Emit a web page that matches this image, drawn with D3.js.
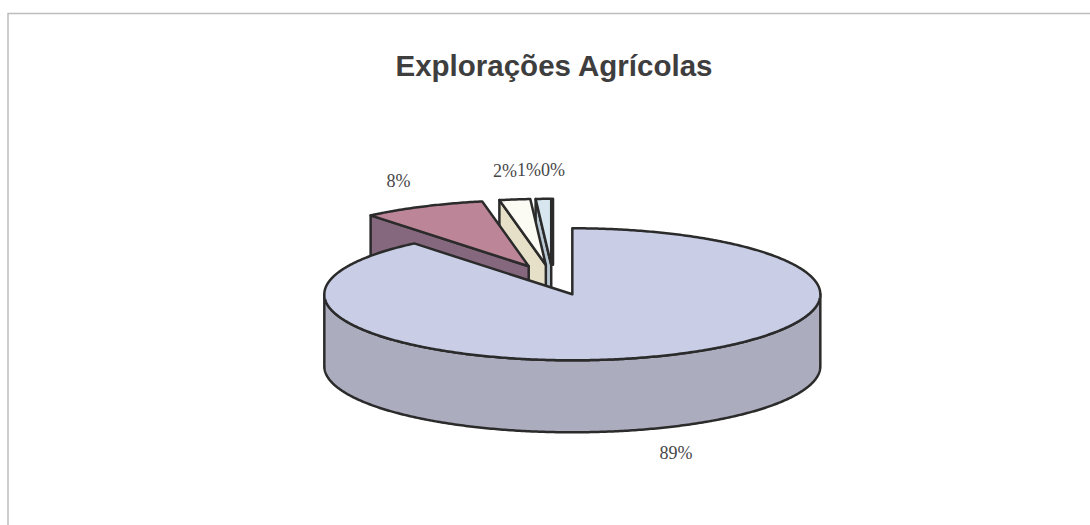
<!DOCTYPE html>
<html>
<head>
<meta charset="utf-8">
<script src="https://cdn.jsdelivr.net/npm/d3@7"></script>
<style>
  html, body { margin: 0; padding: 0; background: #fff; }
  svg { display: block; }
</style>
</head>
<body>
<svg id="chart" width="1090" height="525"></svg>
<script>
// ---- data ----
const chartTitle = "Explorações Agrícolas";
const categories = ["Classe 1", "Classe 2", "Classe 3", "Classe 4", "Classe 5"];
const shares = [89, 8, 2, 1, 0];
const shareLabels = ["89%", "8%", "2%", "1%", "0%"];

// ---- palette ----
const topColors  = ["#c9cee6", "#bd8698", "#fbfaf3", "#d7e6ef", "#5a3e5a"];
const sideColors = ["#abadbf", "#86687e", "#e5e0c7", "#b8c8d2", "#3e2a3e"];
const edgeColor = "#2b2b2b";

// ---- layout ----
const W = 1090, H = 525;
const cx = 553, cy = 280;      // centre of the (unexploded) pie top
const rx = 248, ry = 66;       // ellipse radii of the top face
const depth = 72;              // thickness of the pie
const explode = 0.23;          // radial pull of every slice, fraction of radius

const svg = d3.select("#chart");

// unit circle space -> screen
const sx = d3.scaleLinear().domain([-1, 1]).range([cx - rx, cx + rx]);
const sy = d3.scaleLinear().domain([-1, 1]).range([cy - ry, cy + ry]);

// chart frame
svg.append("path")
  .attr("d", `M8,${H} V13.5 H${W}`)
  .attr("fill", "none")
  .attr("stroke", "#bdbdbd")
  .attr("stroke-width", 1.5);

// title
svg.append("text")
  .attr("x", 554).attr("y", 76)
  .attr("text-anchor", "middle")
  .attr("font-family", "'Liberation Sans', Arial, sans-serif")
  .attr("font-weight", "bold")
  .attr("font-size", 29.5)
  .attr("fill", "#3e3e3e")
  .text(chartTitle);

// pie layout: clockwise from 12 o'clock, data order
const pie = d3.pie().sort(null).value(d => d.value)
  .startAngle(0).endAngle(2 * Math.PI);

const slices = pie(shares.map((v, i) => ({
  value: v, category: categories[i], label: shareLabels[i], i
}))).map(s => {
  const mid = (s.startAngle + s.endAngle) / 2;
  s.mid = mid;
  s.ox = explode * Math.sin(mid);
  s.oy = -explode * Math.cos(mid);
  return s;
});

// point on the slice rim (r = 1) or centre (r = 0), z = vertical drop
function pt(s, a, r, z) {
  return [sx(s.ox + r * Math.sin(a)), sy(s.oy - r * Math.cos(a)) + z];
}
function arcPts(s, a0, a1, z) {
  const n = Math.max(2, Math.ceil(Math.abs(a1 - a0) / 0.01));
  return d3.range(n + 1).map(k => pt(s, a0 + (a1 - a0) * k / n, 1, z));
}
const line = d3.line();
const closed = pts => line(pts) + "Z";

// back slices first
const order = slices.slice().sort((a, b) => a.oy - b.oy);

const gPie = svg.append("g")
  .attr("stroke", edgeColor)
  .attr("stroke-width", 2.5)
  .attr("stroke-linejoin", "round");

order.forEach(s => {
  const g = gPie.append("g").attr("class", "slice");
  const a0 = s.startAngle, a1 = s.endAngle;
  const side = sideColors[s.data.i], top = topColors[s.data.i];

  // cut face at the start angle
  if (Math.sin(a0) < -1e-6) {
    g.append("path").attr("fill", side)
      .attr("d", closed([pt(s, a0, 0, 0), pt(s, a0, 1, 0), pt(s, a0, 1, depth), pt(s, a0, 0, depth)]));
  }
  // cut face at the end angle
  if (Math.sin(a1) > 1e-6) {
    g.append("path").attr("fill", side)
      .attr("d", closed([pt(s, a1, 0, 0), pt(s, a1, 1, 0), pt(s, a1, 1, depth), pt(s, a1, 0, depth)]));
  }
  // outer wall on the front half
  const ws = Math.max(a0, Math.PI / 2), we = Math.min(a1, 3 * Math.PI / 2);
  if (we > ws) {
    const upper = arcPts(s, ws, we, 0);
    const lower = arcPts(s, we, ws, depth);
    g.append("path").attr("fill", side).attr("d", closed(upper.concat(lower)));
  }
  // top face
  g.append("path").attr("fill", top)
    .attr("d", closed([pt(s, a0, 0, 0)].concat(arcPts(s, a0, a1, 0))));
});

// value labels outside each slice
const labels = svg.append("g")
  .selectAll("text")
  .data(slices)
  .join("text")
  .attr("x", s => sx(s.ox) + Math.sin(s.mid) * (rx + 58))
  .attr("y", s => sy(s.oy) - Math.cos(s.mid) * (ry + 29) + (Math.cos(s.mid) < 0 ? depth - 3 : 0))
  .attr("dy", "0.35em")
  .attr("text-anchor", "middle")
  .attr("font-family", "'Liberation Serif', 'Times New Roman', serif")
  .attr("font-size", 18)
  .attr("fill", "#474747")
  .text(s => s.data.label);

// keep labels that share a row from overlapping: walk right to left
const nodes = labels.nodes().map(n => ({
  n, x: +n.getAttribute("x"), y: +n.getAttribute("y"), w: n.getComputedTextLength()
}));
nodes.sort((a, b) => b.x - a.x);
for (let k = 1; k < nodes.length; k++) {
  for (let j = 0; j < k; j++) {
    const a = nodes[j], b = nodes[k];
    if (Math.abs(a.y - b.y) < 14) {
      const limit = a.x - (a.w + b.w) / 2;
      if (b.x > limit) b.x = limit;
    }
  }
  nodes[k].n.setAttribute("x", nodes[k].x);
}
</script>
</body>
</html>
